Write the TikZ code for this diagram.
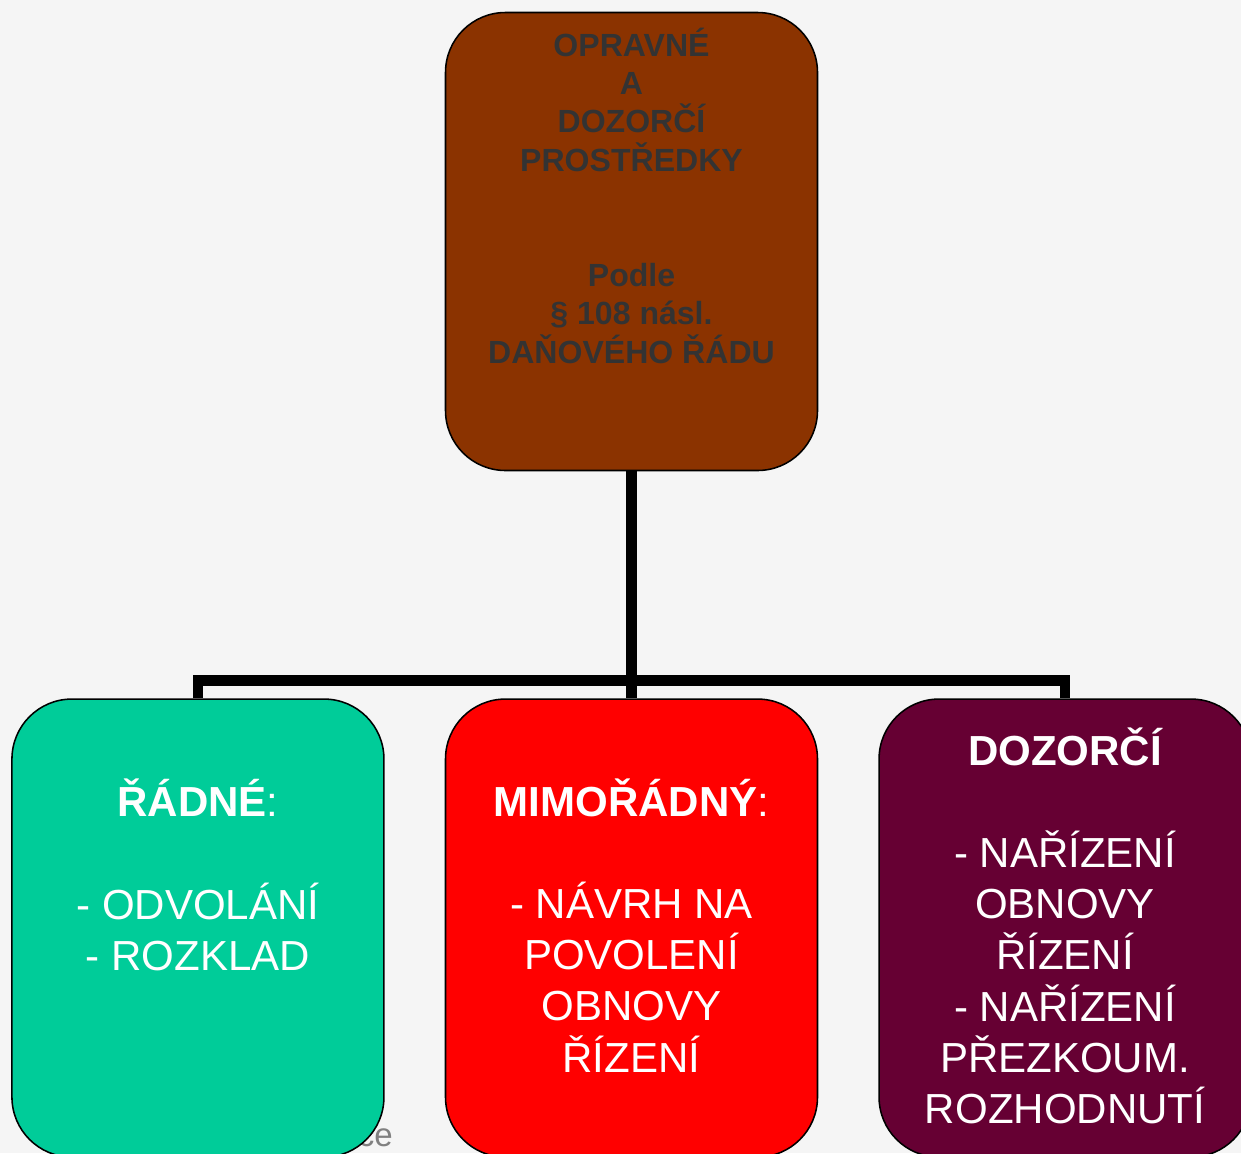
\documentclass[tikz,border=0pt]{standalone}
\usepackage{fontspec}
\setmainfont{Liberation Sans}
\usepackage{tikz}
\usetikzlibrary{positioning}
\definecolor{pagebg}{RGB}{245,245,245}
\definecolor{brownbox}{RGB}{139,51,0}
\definecolor{greenbox}{RGB}{0,204,153}
\definecolor{redbox}{RGB}{255,0,0}
\definecolor{maroonbox}{RGB}{102,0,51}
\definecolor{darktext}{RGB}{51,51,51}
\tikzstyle{block} = [rectangle, draw=black, line width=1.1pt, rounded corners=1.5cm,
    minimum width=9.3cm, minimum height=11.45cm, inner sep=0pt]
\tikzstyle{toplabel} = [align=center, text=darktext, inner sep=0pt,
    font=\fontsize{22.8}{27.3}\selectfont\bfseries]
\tikzstyle{lowlabel} = [align=center, text=white, inner sep=0pt,
    font=\fontsize{29.9}{36.4}\selectfont]
\tikzstyle{footer} = [text=black!50, inner sep=0pt, font=\fontsize{23.5}{28}\selectfont]
\tikzstyle{line} = [draw, line width=7.5pt]

\begin{document}
\begin{tikzpicture}[node distance = 1.5cm]
    \clip (0,0) rectangle (31.025,-28.825);
    \fill [pagebg] (0,0) rectangle (31.025,-28.825);
    \node [footer, anchor=base east] (foot) at (9.825,-28.65) {ce};
    % Place nodes
    \node [block, fill=brownbox] (main) at (15.7875,-6.0375) {};
    \node [block, fill=redbox, below=5.675cm of main] (mimo) {};
    \node [block, fill=greenbox, left=of mimo] (radne) {};
    \node [block, fill=maroonbox, right=of mimo] (dozor) {};
    % texts
    \node [toplabel] (maintext) at ([yshift=1.15cm]main)
        {OPRAVNÉ\\A\\DOZORČÍ\\PROSTŘEDKY\\[1.92cm]Podle\\§ 108 násl.\\DAŇOVÉHO ŘÁDU};
    \node [lowlabel] (radnetext) at ([yshift=1.33cm]radne)
        {{\bfseries ŘÁDNÉ}:\\[1.28cm]- ODVOLÁNÍ\\- ROZKLAD};
    \node [lowlabel] (mimotext) at ([yshift=0.07cm]mimo)
        {{\bfseries MIMOŘÁDNÝ}:\\[1.28cm]- NÁVRH NA\\POVOLENÍ\\OBNOVY\\ŘÍZENÍ};
    \node [lowlabel] (dozortext) at ([yshift=0.06cm]dozor)
        {{\bfseries DOZORČÍ}\\[1.28cm]- NAŘÍZENÍ\\OBNOVY\\ŘÍZENÍ\\- NAŘÍZENÍ\\PŘEZKOUM.\\ROZHODNUTÍ};
    % lines
    \coordinate [above=0.45cm of mimo.north] (fork);
    \path [line] (main.south) -- (fork);
    \path [line] (fork) -- (mimo.north);
    \path [line] (radne.north) |- (fork) -| (dozor.north);
\end{tikzpicture}
\end{document}
